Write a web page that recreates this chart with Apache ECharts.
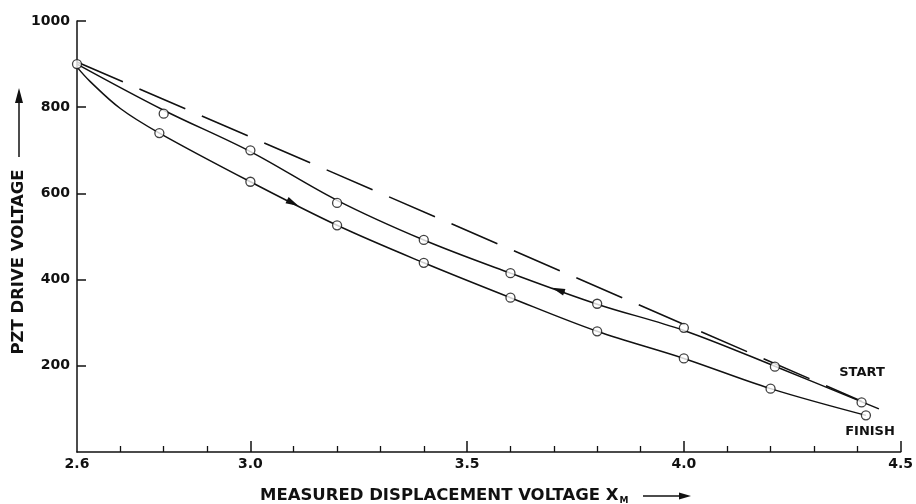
<!DOCTYPE html>
<html><head><meta charset="utf-8">
<script src="https://cdn.jsdelivr.net/npm/echarts@6/dist/echarts.min.js"></script>
<style>html,body{margin:0;padding:0;background:#fff}#c{width:916px;height:504px}</style>
</head><body><div id="c"></div>
<script>
// ---- axis ticks / labels ----
const xLabelValues = [2.6, 3.0, 3.5, 4.0, 4.5];
const xMajorTicks = [3.0, 3.5, 4.0, 4.5];
const xMinorTicks = [2.7, 2.8, 2.9, 3.1, 3.2, 3.3, 3.4, 3.6, 3.7, 3.8, 3.9, 4.1, 4.2, 4.3, 4.4];
const yTickValues = [200, 400, 600, 800, 1000];

// ---- measured points (circles) ----
const upX = [2.6, 2.8, 3.0, 3.2, 3.4, 3.6, 3.8, 4.0, 4.21, 4.41];
const upY = [900, 785, 700, 578, 492, 415, 344, 288, 198, 115];
const loX = [2.79, 3.0, 3.2, 3.4, 3.6, 3.8, 4.0, 4.2, 4.42];
const loY = [740, 627, 526, 439, 358, 280, 217, 147, 85];

// ---- drawn curves ----
const upCurveX = [2.6, 2.8, 3.0, 3.2, 3.4, 3.6, 3.8, 4.0, 4.21, 4.45];
const upCurveY = [900, 793, 697, 584, 492, 415, 343, 282, 199, 100];
const loCurveX = [2.6, 2.63, 2.7, 2.79, 3.0, 3.2, 3.4, 3.6, 3.8, 4.0, 4.2, 4.42];
const loCurveY = [893, 860, 797, 740, 627, 526, 439, 358, 280, 217, 147, 85];

// ---- dashed reference line ----
const refX = [2.6, 4.41];
const refY = [905, 118];

// ---- direction arrows on the curves: [from, to] ----
const arrowLo = [[3.085, 584], [3.098, 577.5]];
const arrowUp = [[3.725, 370.5], [3.71, 376]];

const black = '#111';
const zip = (xs, ys) => xs.map((x, i) => [x, ys[i]]);
const chart = echarts.init(document.getElementById('c'), null, {renderer: 'canvas'});
const lab = {color: black, fontFamily: 'DejaVu Sans', fontWeight: 'bold', fontSize: 14};
const arrowMark = seg => ({
  silent: true, animation: false, symbol: ['none', 'triangle'], symbolSize: [7, 13],
  lineStyle: {color: black, width: 1.5, type: 'solid'}, label: {show: false},
  data: [[{coord: seg[0]}, {coord: seg[1]}]]
});

chart.setOption({
  animation: false,
  backgroundColor: '#fff',
  grid: {left: 77, right: 13, top: 21, bottom: 52},
  xAxis: [{
    type: 'value', min: 2.6, max: 4.5,
    axisLine: {lineStyle: {color: black, width: 1.5}},
    axisTick: {inside: true, length: 6, customValues: xMinorTicks, lineStyle: {color: black, width: 1.3}},
    axisLabel: Object.assign({customValues: xLabelValues, formatter: v => v.toFixed(1), margin: 5}, lab),
    splitLine: {show: false}
  }, {
    type: 'value', min: 2.6, max: 4.5, position: 'bottom',
    axisLine: {show: false},
    axisTick: {inside: true, length: 11, customValues: xMajorTicks, lineStyle: {color: black, width: 1.5}},
    axisLabel: {show: false},
    splitLine: {show: false}
  }],
  yAxis: {
    type: 'value', min: 0, max: 1000,
    axisLine: {show: true, lineStyle: {color: black, width: 1.5}},
    axisTick: {show: true, inside: true, length: 9, customValues: yTickValues, lineStyle: {color: black, width: 1.5}},
    axisLabel: Object.assign({customValues: yTickValues, margin: 7, formatter: v => String(v)}, lab),
    splitLine: {show: false}
  },
  series: [
    {type: 'line', data: zip(refX, refY), symbol: 'none', silent: true,
     lineStyle: {color: black, width: 1.6, type: [50, 18]}},
    {type: 'line', data: zip(upCurveX, upCurveY), symbol: 'none', smooth: 0.35,
     lineStyle: {color: black, width: 1.5}, markLine: arrowMark(arrowUp)},
    {type: 'line', data: zip(loCurveX, loCurveY), symbol: 'none', smooth: 0.35,
     lineStyle: {color: black, width: 1.5}, markLine: arrowMark(arrowLo)},
    {type: 'scatter', data: zip(upX, upY).concat(zip(loX, loY)), symbol: 'circle', symbolSize: 9, z: 5,
     itemStyle: {color: '#fff', borderColor: black, borderWidth: 1.3}}
  ],
  graphic: [
    {type: 'text', x: 19, y: 262, rotation: Math.PI / 2,
     style: {text: 'PZT DRIVE VOLTAGE', font: 'bold 16.5px "DejaVu Sans"', fill: black, align: 'center', verticalAlign: 'middle'}},
    {type: 'line', shape: {x1: 19, y1: 157, x2: 19, y2: 100}, style: {stroke: black, lineWidth: 1.5}},
    {type: 'polygon', shape: {points: [[19, 88], [15, 103], [23, 103]]}, style: {fill: black}},
    {type: 'text', x: 260, y: 496,
     style: {text: '{a|MEASURED DISPLACEMENT VOLTAGE X}{s|M}', verticalAlign: 'middle', align: 'left',
       rich: {a: {font: 'bold 16.5px "DejaVu Sans"', fill: black},
              s: {font: 'bold 9px "DejaVu Sans"', fill: black, padding: [9, 0, 0, 1]}}}},
    {type: 'line', shape: {x1: 643, y1: 496, x2: 682, y2: 496}, style: {stroke: black, lineWidth: 1.5}},
    {type: 'polygon', shape: {points: [[691, 496], [679, 492.5], [679, 499.5]]}, style: {fill: black}},
    {type: 'text', x: 862, y: 373,
     style: {text: 'START', font: 'bold 13px "DejaVu Sans"', fill: black, align: 'center', verticalAlign: 'middle'}},
    {type: 'text', x: 870, y: 432,
     style: {text: 'FINISH', font: 'bold 13px "DejaVu Sans"', fill: black, align: 'center', verticalAlign: 'middle'}}
  ]
});
</script>
</body></html>
